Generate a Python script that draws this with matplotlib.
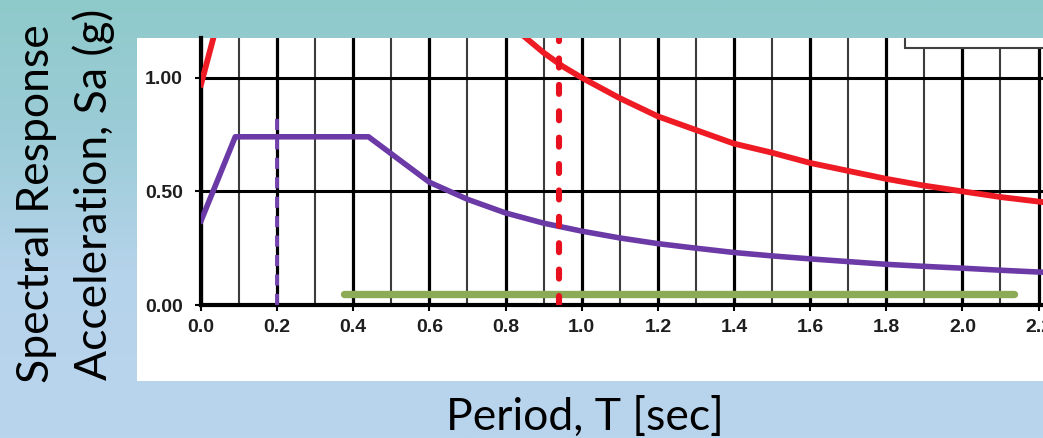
import numpy as np
import matplotlib.pyplot as plt
from matplotlib.colors import LinearSegmentedColormap
from matplotlib.patches import Rectangle

plt.rcParams['lines.scale_dashes'] = False

# values: period T [sec] and Sa [g]
red_T = [0.0, 0.1, 0.7, 0.8, 0.85, 0.9, 0.95, 1.0, 1.1, 1.2, 1.3, 1.4, 1.5,
         1.6, 1.7, 1.8, 1.9, 2.0, 2.1, 2.2, 2.3]
red_Sa = [0.97, 1.6, 1.43, 1.25, 1.18, 1.11, 1.05, 1.0, 0.91, 0.83, 0.77, 0.71,
          0.67, 0.625, 0.59, 0.555, 0.525, 0.5, 0.475, 0.455, 0.435]

purple_T = [0.0, 0.09, 0.44, 0.6, 0.7, 0.8, 0.9, 1.0, 1.1, 1.2, 1.3, 1.4, 1.5,
            1.6, 1.7, 1.8, 1.9, 2.0, 2.1, 2.2, 2.3]
purple_Sa = [0.37, 0.74, 0.74, 0.54, 0.465, 0.405, 0.36, 0.325, 0.295, 0.27,
             0.25, 0.231, 0.216, 0.203, 0.191, 0.179, 0.17, 0.162, 0.153, 0.145, 0.14]

red_period = 0.94          # dashed red marker
red_marker_top = 1.3
purple_period = 0.2        # dashed purple marker
purple_marker_top = 0.85

green_T = [0.375, 2.135]
green_Sa = [0.05, 0.05]

x_ticks = [0.0, 0.2, 0.4, 0.6, 0.8, 1.0, 1.2, 1.4, 1.6, 1.8, 2.0, 2.2]
x_minor = [0.1, 0.3, 0.5, 0.7, 0.9, 1.1, 1.3, 1.5, 1.7, 1.9, 2.1]
x_labels = ['0.0', '0.2', '0.4', '0.6', '0.8', '1.0', '1.2', '1.4', '1.6', '1.8', '2.0', '2.2']
y_ticks = [0.0, 0.5, 1.0]
y_labels = ['0.00', '0.50', '1.00']

W, H = 1043, 438


def fx(px):
    return px / W


def fy(py):
    return 1 - py / H


fig = plt.figure(figsize=(W / 100, H / 100), dpi=100)

# slide background: vertical gradient teal -> light blue
bg = fig.add_axes([0, 0, 1, 1], zorder=-10)
cmap = LinearSegmentedColormap.from_list(
    'bg', [(0, '#8fcacb'), (0.3, '#9bccd7'), (0.62, '#b5d3ea'), (1, '#b9d5ee')])
bg.imshow(np.linspace(0, 1, 256)[:, None], aspect='auto', cmap=cmap,
          extent=[0, 1, 0, 1], origin='upper')
bg.add_patch(Rectangle((fx(137), fy(381)), 1, fy(38) - fy(381),
                       facecolor='white', edgecolor='none'))
bg.set_xlim(0, 1)
bg.set_ylim(0, 1)
bg.set_axis_off()

ax = fig.add_axes([fx(201), fy(305), fx(W) - fx(201), fy(38) - fy(305)])
ax.set_facecolor('white')
ax.set_xlim(0, (W - 201) / 380.7)
ax.set_ylim(0, (305 - 38) / 227.3)

ax.set_xticks(x_ticks)
ax.set_xticks(x_minor, minor=True)
ax.set_yticks(y_ticks)
tick_font = dict(family='Liberation Sans', weight='bold', size=14, color='#1e1e1e')
ax.set_xticklabels(x_labels, **tick_font)
ax.set_yticklabels(y_labels, **tick_font)

ax.grid(which='major', axis='x', color='black', lw=2.3)
ax.grid(which='minor', axis='x', color='#3c3c3c', lw=1.5)
ax.grid(which='major', axis='y', color='black', lw=2.2)
ax.set_axisbelow(True)

ax.tick_params(which='major', length=4, width=1.5, direction='out', color='black')
ax.tick_params(axis='x', which='major', pad=6)
ax.tick_params(axis='y', which='major', pad=9)
ax.tick_params(which='minor', length=0)
for side in ['top', 'right']:
    ax.spines[side].set_visible(False)
for side in ['left', 'bottom']:
    ax.spines[side].set_linewidth(3)
    ax.spines[side].set_color('black')
    ax.spines[side].set_zorder(4)

ax.plot(green_T, green_Sa, color='#8daa56', lw=5.3, solid_capstyle='round', zorder=5)
ax.plot([purple_period, purple_period], [0, purple_marker_top], color='#7443b0',
        lw=2.8, linestyle=(0, (8, 6)), zorder=5)
ax.plot(purple_T, purple_Sa, color='#6b3aa6', lw=4.0, solid_joinstyle='round', zorder=6)
ax.plot(red_T, red_Sa, color='#ee1b24', lw=4.2, solid_joinstyle='round', zorder=6)
ax.plot([red_period, red_period], [0, red_marker_top], color='#e8101e', lw=4.4,
        linestyle=(0, (6.5, 12.5)), dash_capstyle='round', zorder=6)

# clipped legend frame in the top right corner
ax.add_patch(Rectangle(((905 - 201) / 380.7, (305 - 48) / 227.3), 1, 1,
                       facecolor='white', edgecolor='#404040', lw=1.5, zorder=7))

fig.text(fx(585), fy(430), 'Period, T [sec]', ha='center', va='baseline',
         family='Lato', fontsize=32, color='black')
fig.text(fx(37), fy(204), 'Spectral Response', rotation=90, ha='center',
         va='center', family='Lato', fontsize=32, color='black')
fig.text(fx(94), fy(194), 'Acceleration, Sa (g)', rotation=90, ha='center',
         va='center', family='Lato', fontsize=32, color='black')

fig.savefig('out.png', dpi=100)
